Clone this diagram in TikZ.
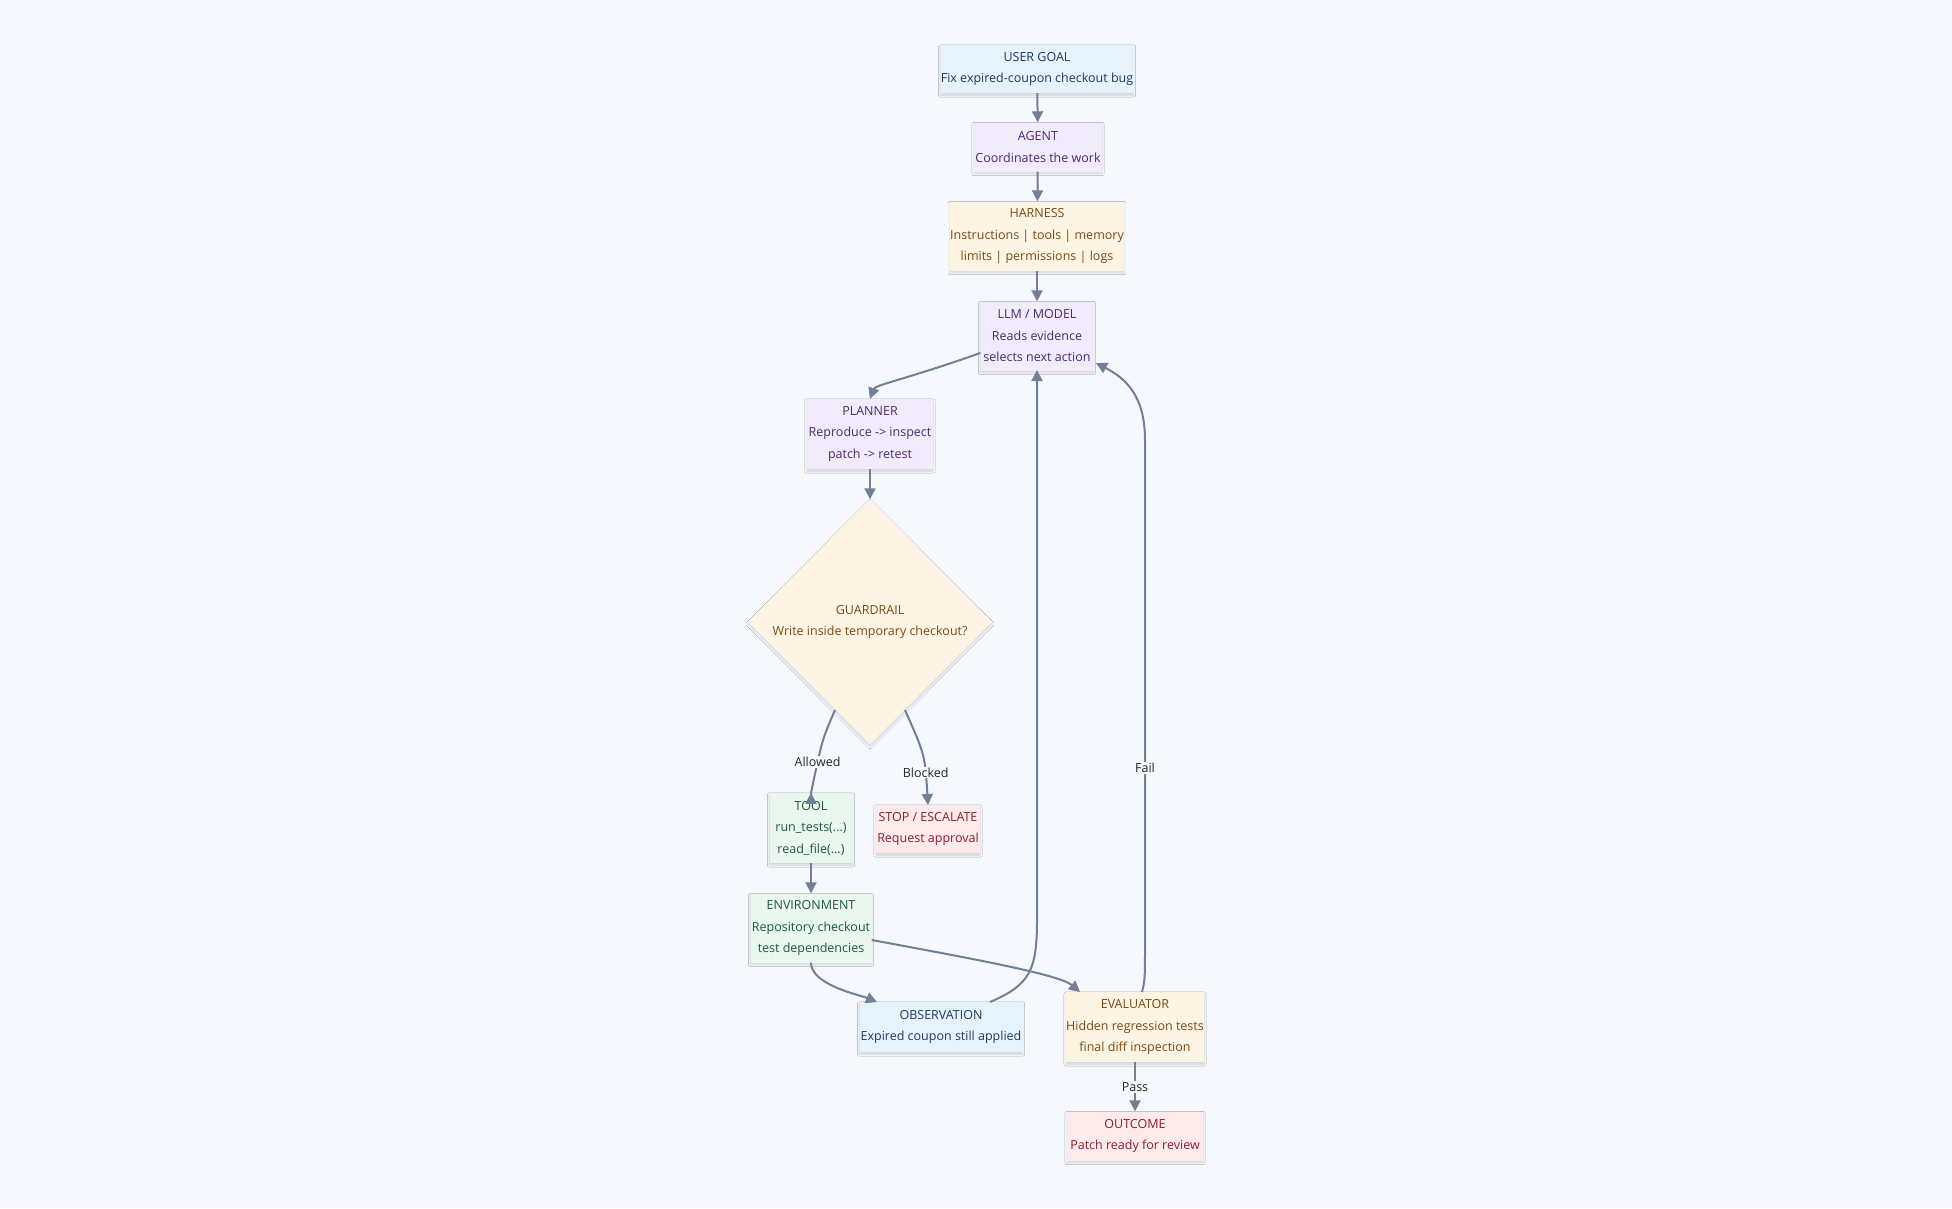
\documentclass[tikz,border=0pt]{standalone}
\usepackage{fontspec}
\setmainfont{Open Sans}
\usetikzlibrary{shapes.geometric,arrows.meta,shadows.blur}
\definecolor{bg}{HTML}{F5F8FC}
\definecolor{edge}{HTML}{718096}
\definecolor{fblue}{HTML}{E6F3FD}\definecolor{tblue}{HTML}{1F3B5C}
\definecolor{fpur}{HTML}{F1ECFC}\definecolor{tpur}{HTML}{4B2A6E}
\definecolor{forg}{HTML}{FEF4E4}\definecolor{torg}{HTML}{7A4A12}
\definecolor{fgrn}{HTML}{E9F7EF}\definecolor{tgrn}{HTML}{1E5A3A}
\definecolor{fred}{HTML}{FDEBEC}\definecolor{tred}{HTML}{8A1E2E}
\tikzset{
 box/.style={rectangle,inner sep=0pt,align=center,font=\fontsize{12.5}{21.5}\selectfont,
   blur shadow={shadow xshift=0pt,shadow yshift=-2pt,shadow blur steps=6,shadow opacity=15}},
 blue/.style={box,fill=fblue,text=tblue},
 pur/.style={box,fill=fpur,text=tpur},
 org/.style={box,fill=forg,text=torg},
 grn/.style={box,fill=fgrn,text=tgrn},
 red/.style={box,fill=fred,text=tred},
 arr/.style={draw=edge,line width=2pt,-{Triangle[length=11pt,width=11pt]}},
 lbl/.style={fill=bg,inner sep=1pt,text=black!85,font=\fontsize{12.5}{14}\selectfont}
}
\begin{document}
\begin{tikzpicture}[x=1pt,y=-1pt]
\fill[bg] (0,0) rectangle (1952,1208);
\useasboundingbox (0,0) rectangle (1952,1208);
\node[blue,minimum width=193pt,minimum height=48pt] (goal) at (1037,69) {USER GOAL\\Fix expired-coupon checkout bug};
\node[pur,minimum width=128pt,minimum height=49pt] (agent) at (1038,147) {AGENT\\Coordinates the work};
\node[org,minimum width=173pt,minimum height=69pt] (harness) at (1037,236) {HARNESS\\Instructions | tools | memory\\limits | permissions | logs};
\node[pur,minimum width=113pt,minimum height=69pt] (llm) at (1037,336) {LLM / MODEL\\Reads evidence\\selects next action};
\node[pur,minimum width=126pt,minimum height=70pt] (planner) at (870,434) {PLANNER\\Reproduce -> inspect\\patch -> retest};
\node[org,diamond,minimum width=244pt,minimum height=245pt,inner sep=0pt,align=center] (guard) at (870,622) {GUARDRAIL\\Write inside temporary checkout?};
\node[grn,minimum width=83pt,minimum height=70pt] (tool) at (811,828) {TOOL\\run\_tests(...)\\read\_file(...)};
\node[red,minimum width=104pt,minimum height=48pt] (stop) at (928,829) {STOP / ESCALATE\\Request approval};
\node[grn,minimum width=121pt,minimum height=69pt] (env) at (811,928) {ENVIRONMENT\\Repository checkout\\test dependencies};
\node[blue,minimum width=163pt,minimum height=50pt] (obs) at (941,1027) {OBSERVATION\\Expired coupon still applied};
\node[org,minimum width=138pt,minimum height=70pt] (eval) at (1135,1027) {EVALUATOR\\Hidden regression tests\\final diff inspection};
\node[red,minimum width=136pt,minimum height=49pt] (out) at (1135,1136) {OUTCOME\\Patch ready for review};

\draw[arr] (goal) -- (agent);
\draw[arr] (agent) -- (harness);
\draw[arr] (harness) -- (llm);
\draw[arr] (llm.west |- 0,353) .. controls (910,378) and (875,385) .. (planner.north);
\draw[arr] (planner) -- (guard);
\draw[arr] (835,710) .. controls (822,740) .. (811,793) node[lbl,pos=0.75] {Allowed} -- (tool.north);
\draw[arr] (905,710) .. controls (925,755) .. (928,805) node[lbl,pos=0.72] {Blocked};
\draw[arr] (tool) -- (env);
\draw[arr] (env.south) .. controls (811,985) and (860,995) .. (877,1002);
\draw[arr] (env.east |- 0,940) .. controls (980,960) and (1060,975) .. (1080,992);
\draw[arr] (990,1002) .. controls (1030,985) and (1037,970) .. (1037,920) -- (1037,370);
\draw[arr] (1142,992) .. controls (1145,980) .. (1145,940) -- (1145,440) .. controls (1145,395) and (1125,378) .. (1096,363);
\node[lbl] (fail) at (1145,768) {Fail};
\coordinate (pas) at (1135,1087);
\draw[arr] (eval) -- (out);
\node[lbl] at (pas) {Pass};
\end{tikzpicture}
\end{document}
